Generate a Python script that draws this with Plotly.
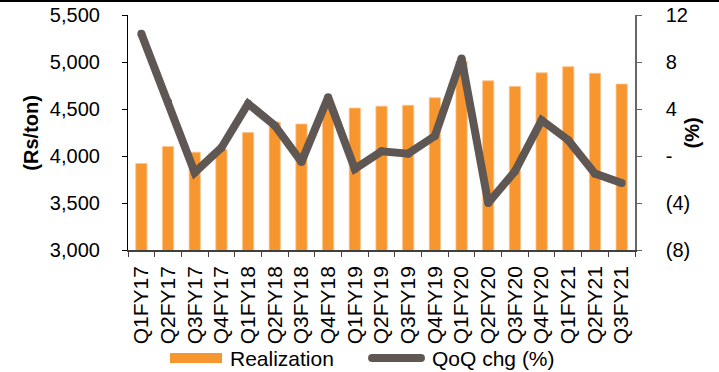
import plotly.graph_objects as go

categories = ["Q1FY17", "Q2FY17", "Q3FY17", "Q4FY17", "Q1FY18", "Q2FY18", "Q3FY18",
              "Q4FY18", "Q1FY19", "Q2FY19", "Q3FY19", "Q4FY19", "Q1FY20", "Q2FY20",
              "Q3FY20", "Q4FY20", "Q1FY21", "Q2FY21", "Q3FY21"]
realization = [3920, 4100, 4040, 4070, 4250, 4360, 4340, 4555, 4510, 4530, 4540,
               4620, 5005, 4800, 4740, 4885, 4950, 4880, 4765]
qoq_chg = [10.4, 4.6, -1.4, 0.7, 4.45, 2.6, -0.5, 5.0, -1.1, 0.4, 0.2,
           1.7, 8.3, -4.0, -1.3, 3.05, 1.35, -1.5, -2.3]

left_ticks = [3000, 3500, 4000, 4500, 5000, 5500]
right_ticks = [-8, -4, 0, 4, 8, 12]
right_ticktext = ["(8)", "(4)", "-", "4", "8", "12"]
series_names = ["Realization", "QoQ chg (%)"]

FONT = "Liberation Sans, Arial, sans-serif"
ORANGE = "#F7962F"
GREY = "#5F5753"

fig = go.Figure()
fig.add_trace(go.Bar(x=categories, y=realization, name=series_names[0],
                     marker=dict(color=ORANGE, line=dict(color="#FBC38A", width=0.8)),
                     yaxis="y", showlegend=False))
fig.add_trace(go.Scatter(x=categories, y=qoq_chg, name=series_names[1], mode="lines+markers",
                         line=dict(color=GREY, width=8),
                         marker=dict(color=GREY, size=8, line=dict(width=0)),
                         yaxis="y2", showlegend=False, cliponaxis=False))

fig.update_layout(
    width=719, height=372,
    margin=dict(l=128, r=84, t=15, b=122, autoexpand=False),
    paper_bgcolor="white", plot_bgcolor="white",
    font=dict(family=FONT, size=20, color="black"),
    bargap=0.58,
    xaxis=dict(type="category", range=[-0.5, len(categories) - 0.5],
               tickmode="array", tickvals=categories, ticktext=categories,
               tickson="boundaries", ticks="outside", ticklen=5,
               showline=True, linecolor="#404040", linewidth=1.5, tickcolor="#404040",
               tickangle=-90, showgrid=False, tickfont=dict(size=21), automargin=False,
               ticklabelstandoff=6),
    yaxis=dict(range=[3000, 5500], tickvals=left_ticks, tickformat=",", ticks="outside",
               ticklen=5, showline=True, linecolor="black", linewidth=1.2, tickcolor="black",
               showgrid=False, zeroline=False, ticklabelstandoff=18, automargin=False),
    yaxis2=dict(range=[-8, 12], tickvals=right_ticks, ticktext=right_ticktext,
                overlaying="y", side="right", ticks="outside", ticklen=5,
                showline=True, linecolor="#666666", linewidth=1.5, tickcolor="#666666",
                showgrid=False, zeroline=False, ticklabelstandoff=20, automargin=False),
)

# axis titles
fig.add_annotation(text="<b>(Rs/ton)</b>", xref="paper", yref="paper",
                   x=-0.193, y=0.5, textangle=-90, showarrow=False,
                   font=dict(size=20), xanchor="center", yanchor="middle")
fig.add_annotation(text="<b>(%)</b>", xref="paper", yref="paper",
                   x=1.1124, y=0.5, textangle=-90, showarrow=False,
                   font=dict(size=20), xanchor="center", yanchor="middle")
# top border line
fig.add_shape(type="line", xref="paper", yref="paper", x0=-0.26, x1=1.17,
              y0=1.0617, y1=1.0617, line=dict(color="black", width=3))

# legend (drawn manually)
fig.add_shape(type="rect", xref="paper", yref="paper", x0=0.0828, x1=0.1854,
              y0=-0.4809, y1=-0.4383, fillcolor=ORANGE, line=dict(width=0))
fig.add_annotation(text=series_names[0], xref="paper", yref="paper", x=0.1972, y=-0.4596,
                   showarrow=False, xanchor="left", yanchor="middle", font=dict(size=21))
fig.add_shape(type="line", xref="paper", yref="paper", x0=0.4814, x1=0.5778,
              y0=-0.4596, y1=-0.4596, line=dict(color=GREY, width=8))
for xa in (0.4814, 0.5778):
    fig.add_shape(type="circle", xref="paper", yref="paper", xsizemode="pixel",
                  ysizemode="pixel", xanchor=xa, yanchor=-0.4596, x0=-4, x1=4, y0=-4, y1=4,
                  fillcolor=GREY, line=dict(width=0))
fig.add_annotation(text=series_names[1], xref="paper", yref="paper", x=0.5957, y=-0.4596,
                   showarrow=False, xanchor="left", yanchor="middle", font=dict(size=21))

fig.write_html("out.html")
